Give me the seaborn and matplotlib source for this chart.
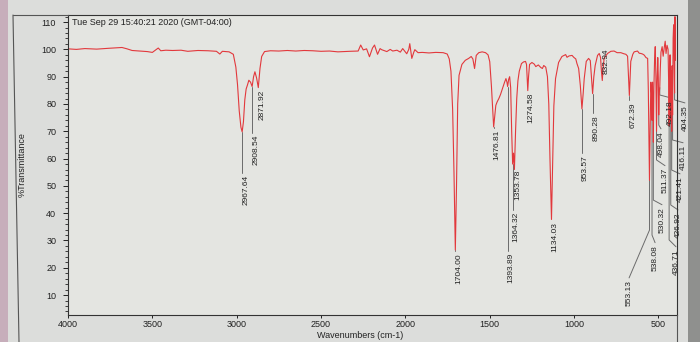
import matplotlib
matplotlib.use("Agg")
import matplotlib.pyplot as plt
from matplotlib.lines import Line2D
from matplotlib.patches import Rectangle
import pandas as pd
import seaborn as sns

# IR spectrum trace: wavenumber (cm-1) and %T
wavenumber = [
    4000, 3950, 3900, 3830, 3760, 3680, 3650, 3620, 3570, 3530, 3500, 3480, 3465, 3450,
    3420, 3380, 3330, 3290, 3230, 3170, 3120, 3100, 3085, 3045, 3020, 3005, 2995, 2985,
    2975, 2967.64, 2960, 2952, 2944, 2936, 2928, 2918, 2908.54, 2900, 2892, 2882, 2871.92,
    2862, 2852, 2835, 2800, 2750, 2700, 2650, 2600, 2550, 2500, 2450, 2400, 2330, 2280,
    2265, 2250, 2230, 2213, 2195, 2183, 2165, 2150, 2141, 2110, 2090, 2075, 2050, 2030,
    2016, 2000, 1992, 1980, 1974, 1962, 1950, 1944, 1925, 1900, 1860, 1820, 1776, 1752,
    1740, 1730, 1720, 1712, 1704.00, 1697, 1690, 1682, 1665, 1645, 1625, 1610, 1600, 1590,
    1580, 1565, 1545, 1525, 1510, 1500, 1490, 1482, 1476.81, 1470, 1464, 1456, 1446, 1436,
    1425, 1412, 1404, 1398, 1393.89, 1388, 1382, 1376, 1370, 1364.32, 1359, 1353.78, 1347,
    1340, 1333, 1325, 1312, 1300, 1288, 1282, 1278, 1274.58, 1270, 1264, 1250, 1236, 1227,
    1212, 1198, 1188, 1180, 1168, 1158, 1150, 1143, 1134.03, 1127, 1120, 1110, 1092, 1072,
    1050, 1042, 1030, 1012, 1002, 990, 983, 973, 963, 953.57, 946, 940, 928, 914, 904, 897,
    890.28, 883, 875, 861, 851, 843, 838, 832.94, 828, 822, 802, 782, 763, 745, 723, 705,
    693, 683, 678, 672.39, 667, 664, 652, 644, 624, 614, 604, 594, 584, 574, 564, 560, 556,
    553.13, 549, 545, 541, 538.08, 535, 532.5, 530.32, 527, 523, 519, 515, 511.37, 508, 504,
    501, 498.04, 495.5, 492.18, 489, 485, 478, 472, 466, 460, 455, 449, 443, 439.5, 436.71,
    434, 431, 428.5, 426.92, 424, 421.41, 419, 416.11, 413, 410, 407, 404.35, 402, 400,
]
transmittance = [
    100.2, 100.0, 100.3, 100.1, 100.4, 100.7, 100.2, 99.6, 99.4, 99.2, 98.9, 99.8, 100.5, 99.5,
    99.7, 99.6, 99.7, 99.3, 99.6, 99.5, 99.3, 98.3, 99.3, 99.1, 98.2, 93.5, 87.0, 77.5,
    71.5, 69.8, 73.5, 81.5, 85.5, 87.0, 88.7, 88.0, 86.4, 90.0, 91.8, 89.5, 86.0,
    93.0, 97.4, 99.2, 99.5, 99.4, 99.6, 99.4, 99.6, 99.5, 99.3, 99.4, 99.1, 99.3, 99.4,
    101.6, 99.8, 100.2, 97.3, 100.5, 101.6, 98.2, 100.3, 99.9, 99.2, 100.0, 99.4, 99.7, 99.0,
    100.3, 99.0, 98.4, 100.0, 102.1, 96.7, 99.0, 99.9, 98.8, 98.9, 98.7, 98.9, 98.8, 98.3,
    96.5, 92.0, 78.0, 55.0, 26.5, 50.0, 80.0, 90.5, 94.5, 96.0, 96.7, 97.4, 96.5, 93.0,
    97.8, 98.8, 99.1, 98.8, 98.0, 95.5, 86.5, 77.0, 71.6, 76.0, 79.5, 80.8, 82.0, 83.5,
    85.6, 88.0, 89.3, 88.0, 86.4, 89.0, 90.0, 86.0, 70.0, 58.0, 62.0, 56.0, 70.0,
    82.0, 88.5, 92.0, 94.8, 95.4, 95.6, 94.5, 89.0, 84.9, 90.0, 94.5, 95.2, 94.6, 93.7,
    94.3, 93.4, 93.0, 94.1, 93.5, 90.0, 80.0, 60.0, 37.7, 58.0, 79.3, 89.3, 95.2, 97.4,
    98.1, 97.1, 97.6, 97.8, 97.1, 96.5, 94.8, 93.0, 86.7, 78.2, 84.0, 89.3, 95.6, 96.7, 95.9, 90.0,
    83.8, 90.0, 94.1, 97.8, 98.5, 97.0, 92.0, 88.6, 93.0, 96.7, 98.5, 99.3, 99.4, 98.8, 98.8, 98.4,
    98.2, 97.5, 91.0, 83.1, 91.0, 95.6, 98.2, 99.1, 99.4, 98.6, 98.5, 98.3, 97.9, 97.0, 96.7, 85.0, 65.0,
    52.0, 72.0, 88.0, 84.0, 74.0, 88.0, 80.0, 66.0, 86.0, 96.0, 101.0, 90.0, 70.0, 88.0, 97.0,
    90.0, 76.0, 84.0, 86.0, 93.0, 99.0, 101.0, 97.5, 100.5, 103.0, 98.5, 101.5, 100.0, 88.0, 72.0,
    90.0, 98.0, 88.0, 74.0, 92.0, 70.0, 94.0, 76.0, 104.0, 109.0, 98.0, 84.0, 112.0, 96.0,
]

# labelled peak positions (cm-1)
peak_wavenumbers = [
    2967.64, 2908.54, 2871.92, 1704.00, 1476.81, 1393.89, 1364.32, 1353.78, 1274.58,
    1134.03, 953.57, 890.28, 832.94, 672.39, 553.13, 538.08, 530.32, 511.37, 498.04,
    492.18, 436.71, 426.92, 421.41, 416.11, 404.35,
]

# where each peak label sits: top of the rotated text (%T), optional text centre
# (cm-1) and the %T where the vertical leader bends toward the text
label_top = [54.0, 68.6, 85.1, 25.4, 70.5, 25.4, 40.4, 55.8, 84.0,
             36.8, 61.3, 76.0, 100.5, 80.7, 15.5, 28.4, 42.3, 56.6, 70.1,
             81.5, 26.9, 40.4, 53.6, 65.0, 79.6]
label_center = [None] * 14 + [674, 520, 479, 461, 485, 431, 396, 384, 372, 354, 343]
label_knee = [None] * 14 + [33.8, 32.0, 44.8, 59.5, 72.3, 83.3, 30.2, 43.0, 55.8, 66.8, 81.5]

x_ticks = [4000, 3500, 3000, 2500, 2000, 1500, 1000, 500]
y_ticks = [10, 20, 30, 40, 50, 60, 70, 80, 90, 100, 110]
timestamp = "Tue Sep 29 15:40:21 2020 (GMT-04:00)"

sns.set_theme(style="ticks")
plt.rcParams["font.family"] = ["Liberation Sans", "DejaVu Sans"]

W, H = 700, 342
fig = plt.figure(figsize=(W / 100, H / 100), dpi=100)
fig.patch.set_facecolor("#dcdddb")

# screen edge tones
fig.patches.append(Rectangle((0, 0), 8 / W, 1, transform=fig.transFigure,
                             facecolor="#c7aebb", edgecolor="none", zorder=0))
fig.patches.append(Rectangle((688 / W, 0), 12 / W, 1, transform=fig.transFigure,
                             facecolor="#8f908e", edgecolor="none", zorder=0))

left, right, top, bottom = 68, 677, 15, 315
ax = fig.add_axes([left / W, 1 - bottom / H, (right - left) / W, (bottom - top) / H])
ax.set_facecolor("#e4e5e1")

spec = pd.DataFrame({"wavenumber": wavenumber, "transmittance": transmittance})
sns.lineplot(data=spec, x="wavenumber", y="transmittance", ax=ax, sort=False,
             color="#e2383c", linewidth=0.8, estimator=None)

ax.set_xlim(4000, 390)
ax.set_ylim(2.7, 112.6)
ax.set_xticks(x_ticks)
ax.set_yticks(y_ticks)
ax.set_yticks(range(4, 113, 2), minor=True)
ax.tick_params(axis="both", labelsize=6.5, colors="#222222", direction="out",
               width=0.7)
ax.tick_params(axis="x", length=2.5, pad=1)
ax.tick_params(axis="y", length=3.5, pad=5)
ax.tick_params(axis="y", which="minor", length=2, width=0.6, color="#222222")
ax.set_xlabel("")
ax.set_ylabel("")
for s in ax.spines.values():
    s.set_color("#333333")
    s.set_linewidth(0.8)

# peak labels with leader lines
lookup = dict(zip(wavenumber, transmittance))
for w, ttop, cx, knee in zip(peak_wavenumbers, label_top, label_center, label_knee):
    t_peak = lookup[w]
    txt = f"{w:.2f}"
    if cx is None:
        if ttop < t_peak - 1:
            ax.plot([w, w], [t_peak, ttop + 0.8], color="#6b6b6b", lw=0.7, zorder=1)
        ax.text(w, ttop, txt, rotation=90, ha="left", va="top", fontsize=6,
                color="#222222")
    else:
        ax.plot([w, w, cx], [t_peak, knee, ttop + 0.8], color="#6b6b6b", lw=0.7,
                zorder=1, clip_on=False)
        ax.text(cx, ttop, txt, rotation=90, ha="center", va="top", fontsize=6,
                color="#222222", clip_on=False)

# timestamp inside the plot area
ax.text(3975, 110, timestamp, ha="left", va="center", fontsize=6.5, color="#222222")

fig.text(22 / W, 1 - 165 / H, "%Transmittance", rotation=90, ha="center",
         va="center", fontsize=6.5, color="#222222")
fig.text(360 / W, 1 - 336 / H, "Wavenumbers (cm-1)", ha="center", va="center",
         fontsize=6.5, color="#222222")

# outer frame of the print window
fig.add_artist(Line2D([13 / W, 19 / W], [1 - 15 / H, 0], transform=fig.transFigure,
                      color="#555555", lw=0.8))
fig.add_artist(Line2D([13 / W, left / W], [1 - 15 / H, 1 - 15 / H],
                      transform=fig.transFigure, color="#555555", lw=0.8))
fig.add_artist(Line2D([right / W, right / W], [1 - bottom / H, 0],
                      transform=fig.transFigure, color="#555555", lw=0.8))

fig.savefig("out.png", dpi=100, facecolor=fig.get_facecolor())
